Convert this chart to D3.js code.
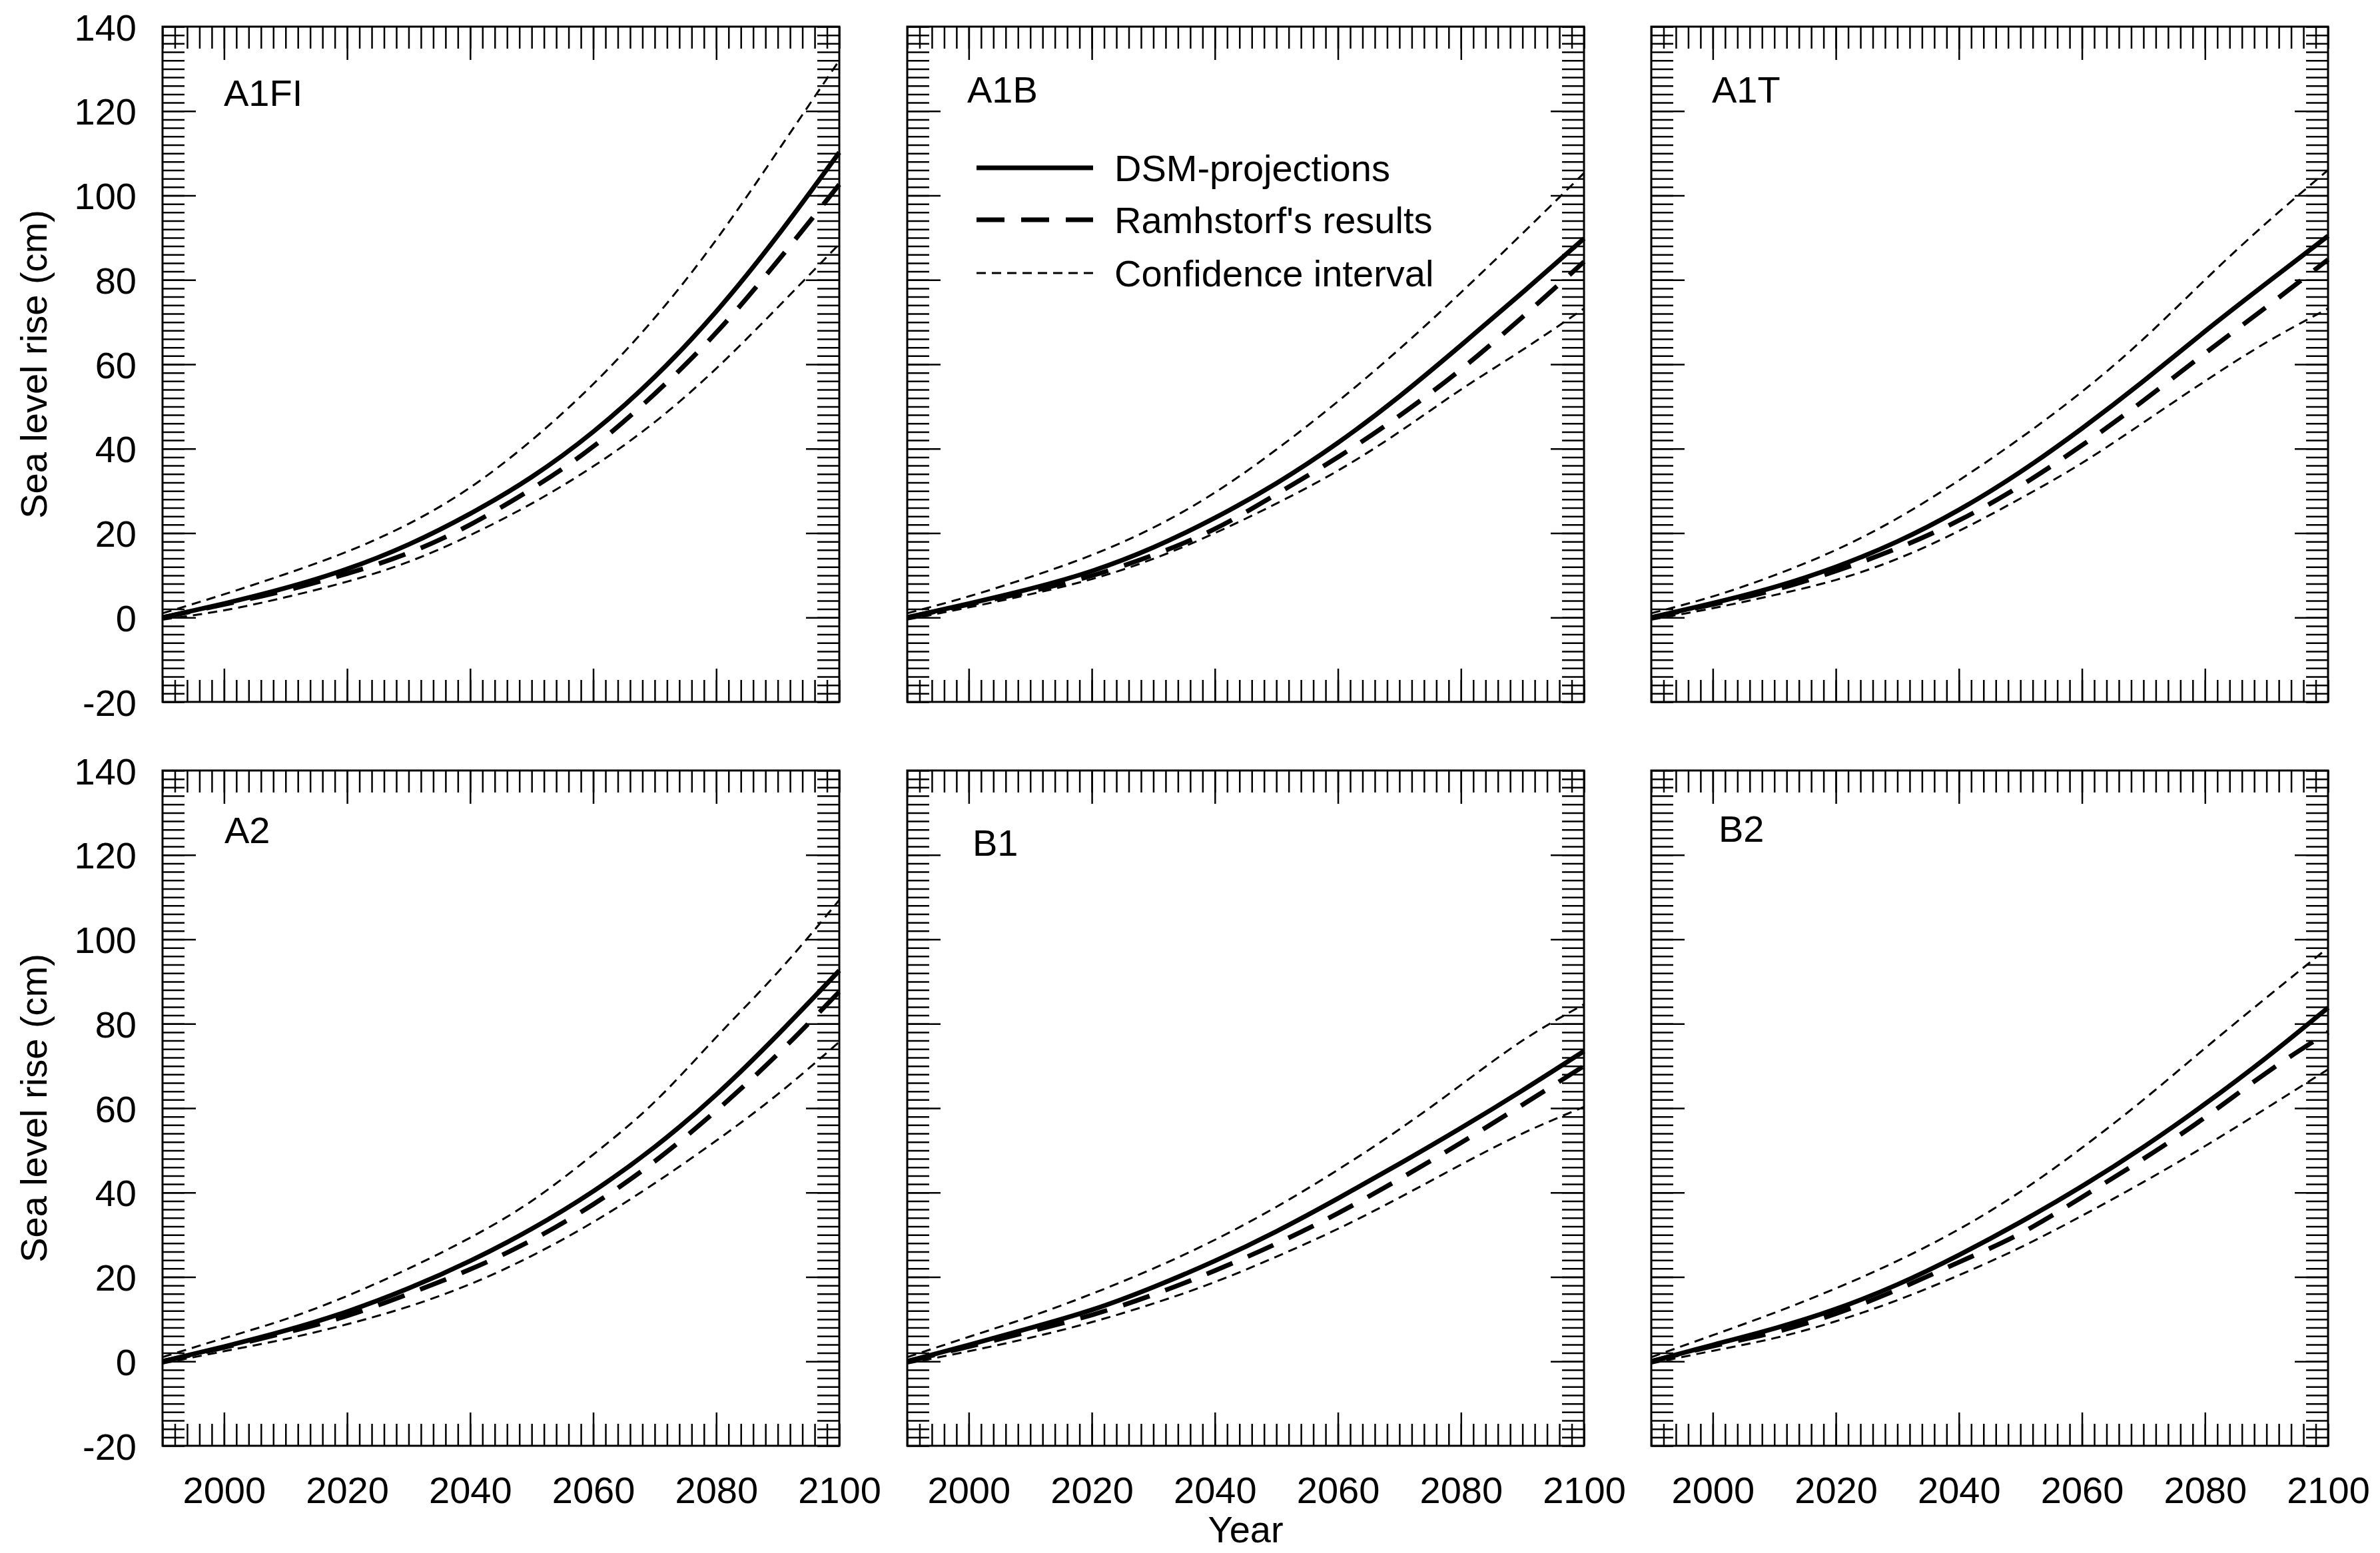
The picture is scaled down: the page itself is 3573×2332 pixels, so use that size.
<!DOCTYPE html>
<html><head><meta charset="utf-8">
<script src="https://cdn.jsdelivr.net/npm/d3@7"></script>
<style>
body{margin:0;background:#fff}
svg{display:block}
text{font-family:"Liberation Sans",Arial,sans-serif;fill:#000}
</style>
</head><body>
<svg id="c" width="3573" height="2332"></svg>
<script>
// ---------------- DATA ----------------
const years = [1990, 2000, 2010, 2020, 2030, 2040, 2050, 2060, 2070, 2080, 2090, 2100];
const panelNames = ["A1FI", "A1B", "A1T", "A2", "B1", "B2"];
const seriesNames = ["DSM-projections", "Ramhstorf's results", "Confidence interval"];
const xTickLabels = [2000, 2020, 2040, 2060, 2080, 2100];
const yTickLabels = [-20, 0, 20, 40, 60, 80, 100, 120, 140];

const A1FI_dsm   = [0, 3.3, 7.0, 11.5, 17.3, 24.6, 33.3, 44.0, 57.0, 72.5, 90.5, 110.2];
const A1FI_ram   = [0, 3.1, 6.4, 10.4, 15.3, 22.0, 30.5, 40.5, 53.0, 67.5, 84.5, 102.6];
const A1FI_upper = [1, 5.5, 10.3, 15.6, 22.2, 30.8, 42.0, 55.3, 71.0, 89.5, 110.5, 132.0];
const A1FI_lower = [-0.5, 1.7, 4.8, 8.5, 13.2, 19.5, 27.0, 35.8, 46.3, 59.0, 73.5, 88.5];

const A1B_dsm   = [0, 3.3, 6.8, 11.0, 16.6, 23.6, 31.8, 41.4, 52.4, 64.5, 77.0, 89.8];
const A1B_ram   = [0, 3.1, 6.2, 9.9, 14.8, 21.0, 29.2, 38.0, 47.8, 58.8, 71.2, 84.3];
const A1B_upper = [1, 5.0, 9.6, 14.8, 21.3, 29.6, 39.8, 51.2, 63.6, 77.0, 91.0, 105.3];
const A1B_lower = [-0.5, 2.4, 5.5, 9.1, 13.9, 20.0, 27.0, 34.8, 44.0, 54.0, 63.4, 73.2];

const A1T_dsm   = [0, 3.4, 7.2, 12.0, 18.0, 25.5, 34.5, 44.8, 56.0, 67.8, 79.2, 90.4];
const A1T_ram   = [0, 3.1, 6.5, 11.0, 16.4, 23.0, 31.2, 40.8, 51.4, 62.6, 73.6, 84.8];
const A1T_upper = [1, 5.0, 10.0, 16.0, 23.5, 32.5, 42.5, 53.5, 66.0, 80.0, 93.5, 106.0];
const A1T_lower = [-0.5, 2.2, 5.3, 8.9, 13.9, 20.5, 28.2, 36.6, 46.2, 56.0, 65.2, 73.2];

const A2_dsm   = [0, 3.5, 7.3, 11.8, 17.3, 23.8, 31.4, 40.3, 50.8, 63.2, 77.4, 92.6];
const A2_ram   = [0, 3.3, 6.8, 10.8, 16.0, 21.8, 28.7, 37.2, 47.4, 59.4, 72.8, 87.6];
const A2_upper = [1, 5.5, 10.0, 15.5, 22.0, 29.3, 38.0, 49.0, 61.5, 76.8, 92.2, 109.3];
const A2_lower = [-0.5, 2.4, 5.3, 8.8, 13.0, 18.3, 25.0, 33.0, 42.2, 52.3, 63.3, 75.7];

const B1_dsm   = [0, 3.9, 7.9, 12.2, 17.6, 23.8, 30.8, 38.6, 46.8, 55.3, 64.2, 73.5];
const B1_ram   = [0, 3.5, 7.1, 11.0, 15.8, 21.5, 27.9, 35.1, 43.2, 51.8, 60.8, 70.0];
const B1_upper = [1, 5.8, 10.6, 16.0, 22.0, 28.8, 36.6, 45.4, 55.0, 65.5, 76.0, 84.6];
const B1_lower = [-0.5, 2.4, 5.6, 9.3, 13.7, 18.8, 24.8, 31.4, 38.8, 46.6, 54.0, 60.3];

const B2_dsm   = [0, 3.9, 7.8, 12.4, 18.2, 25.2, 33.0, 41.5, 50.8, 61.0, 72.0, 83.8];
const B2_ram   = [0, 3.6, 6.9, 11.3, 17.0, 23.5, 30.3, 38.9, 48.0, 57.8, 68.4, 78.0];
const B2_upper = [1, 6.2, 11.5, 17.3, 23.8, 31.3, 40.2, 50.6, 62.0, 74.2, 86.2, 98.0];
const B2_lower = [-0.5, 2.5, 5.5, 9.5, 14.5, 20.4, 27.0, 34.5, 42.5, 51.0, 60.0, 69.2];

const panelSeries = [
  [A1FI_dsm, A1FI_ram, A1FI_upper, A1FI_lower],
  [A1B_dsm, A1B_ram, A1B_upper, A1B_lower],
  [A1T_dsm, A1T_ram, A1T_upper, A1T_lower],
  [A2_dsm, A2_ram, A2_upper, A2_lower],
  [B1_dsm, B1_ram, B1_upper, B1_lower],
  [B2_dsm, B2_ram, B2_upper, B2_lower]
];

// ---------------- LAYOUT ----------------
const colX = [244, 1362, 2479], rowY = [40, 1157];
const PW = 1016, PH = 1014;
const labelOffsets = [[92,119],[90,114],[91,114],[93,109],[98,128],[101,107]];
const FS = 56;
const svg = d3.select("#c");

const x = d3.scaleLinear().domain([1990, 2100]).range([0, PW]);
const y = d3.scaleLinear().domain([-20, 140]).range([PH, 0]);

const minorX = d3.range(1990, 2101, 2);
const majorX = d3.range(2000, 2100, 20);
const minorY = d3.range(-20, 141, 2);
const majorY = d3.range(0, 140, 20);

const styleTicks = sel => {
  sel.select(".domain").remove();
  sel.selectAll(".tick line").attr("stroke", "#000").attr("stroke-width", 2.5);
  sel.selectAll(".tick text").remove();
};

const lineGen = d3.line()
  .x(d => x(d[0]))
  .y(d => y(d[1]))
  .curve(d3.curveNatural);

const styles = [
  {w: 7, dash: null},        // DSM
  {w: 7, dash: "42,25"},     // Ramhstorf
  {w: 3, dash: "14,9"},      // CI
  {w: 3, dash: "14,9"}       // CI
];

panelNames.forEach((name, i) => {
  const c = i % 3, r = Math.floor(i / 3);
  const g = svg.append("g").attr("transform", `translate(${colX[c]},${rowY[r]})`);

  // ticks (inward on all four sides)
  g.append("g").attr("transform", `translate(0,${PH})`)
    .call(d3.axisBottom(x).tickValues(minorX).tickSize(-33).tickFormat("")).call(styleTicks);
  g.append("g").attr("transform", `translate(0,${PH})`)
    .call(d3.axisBottom(x).tickValues(majorX).tickSize(-50).tickFormat("")).call(styleTicks);
  g.append("g")
    .call(d3.axisTop(x).tickValues(minorX).tickSize(-33).tickFormat("")).call(styleTicks);
  g.append("g")
    .call(d3.axisTop(x).tickValues(majorX).tickSize(-50).tickFormat("")).call(styleTicks);
  g.append("g")
    .call(d3.axisLeft(y).tickValues(minorY).tickSize(-33).tickFormat("")).call(styleTicks);
  g.append("g")
    .call(d3.axisLeft(y).tickValues(majorY).tickSize(-50).tickFormat("")).call(styleTicks);
  g.append("g").attr("transform", `translate(${PW},0)`)
    .call(d3.axisRight(y).tickValues(minorY).tickSize(-33).tickFormat("")).call(styleTicks);
  g.append("g").attr("transform", `translate(${PW},0)`)
    .call(d3.axisRight(y).tickValues(majorY).tickSize(-50).tickFormat("")).call(styleTicks);

  // tick labels
  if (c === 0) {
    const ya = g.append("g")
      .call(d3.axisLeft(y).tickValues(yTickLabels).tickSize(0).tickPadding(39).tickFormat(d => String(d)));
    ya.select(".domain").remove();
    ya.selectAll("text").attr("font-size", FS).attr("font-family", "'Liberation Sans',Arial,sans-serif")
      .attr("fill", "#000").attr("dy", "0.36em");
  }
  if (r === 1) {
    const xa = g.append("g").attr("transform", `translate(0,${PH})`)
      .call(d3.axisBottom(x).tickValues(xTickLabels).tickSize(0).tickPadding(46).tickFormat(d => String(d)));
    xa.select(".domain").remove();
    xa.selectAll("text").attr("font-size", FS).attr("font-family", "'Liberation Sans',Arial,sans-serif")
      .attr("fill", "#000").attr("dy", "0.72em");
  }

  // series lines
  const ser = panelSeries[i];
  [3, 2, 1, 0].forEach(k => {
    const pts = years.map((yr, j) => [yr, ser[k][j]]);
    g.append("path").datum(pts)
      .attr("d", lineGen)
      .attr("fill", "none")
      .attr("stroke", "#000")
      .attr("stroke-width", styles[k].w)
      .attr("stroke-dasharray", styles[k].dash)
      .attr("stroke-linejoin", "round");
  });

  // frame
  g.append("rect").attr("x", 0).attr("y", 0).attr("width", PW).attr("height", PH)
    .attr("fill", "none").attr("stroke", "#000").attr("stroke-width", 3);

  // panel label
  g.append("text").attr("x", labelOffsets[i][0]).attr("y", labelOffsets[i][1])
    .attr("font-size", FS).text(name);

  // legend
  if (i === 1) {
    const ly = [212, 290, 370];
    const ls = [styles[0], styles[1], styles[2]];
    seriesNames.forEach((s, k) => {
      g.append("line").attr("x1", 104).attr("x2", 279).attr("y1", ly[k]).attr("y2", ly[k])
        .attr("stroke", "#000").attr("stroke-width", ls[k].w).attr("stroke-dasharray", ls[k].dash);
      g.append("text").attr("x", 311).attr("y", ly[k] + 20).attr("font-size", FS).text(s);
    });
  }
});

// axis titles
[0, 1].forEach(r => {
  svg.append("text")
    .attr("transform", `translate(70,${rowY[r] + PH / 2}) rotate(-90)`)
    .attr("text-anchor", "middle").attr("font-size", FS).text("Sea level rise (cm)");
});
svg.append("text").attr("x", colX[1] + PW / 2).attr("y", 2316)
  .attr("text-anchor", "middle").attr("font-size", FS).text("Year");
</script>
</body></html>
